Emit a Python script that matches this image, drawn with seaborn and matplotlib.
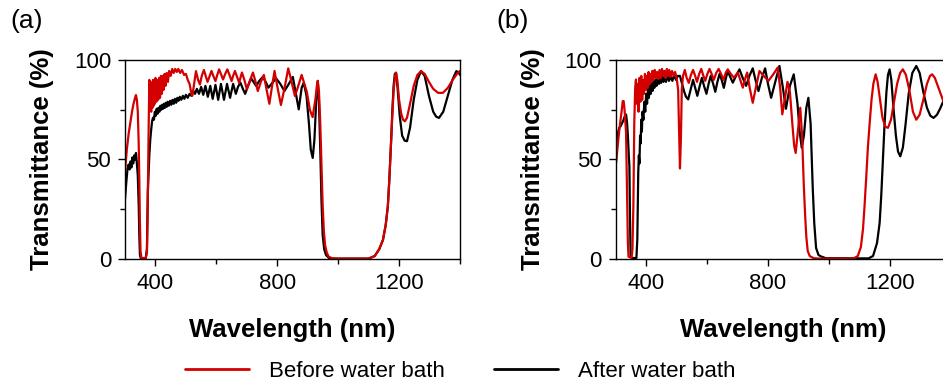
import matplotlib
matplotlib.use("Agg")
import matplotlib.pyplot as plt
import seaborn as sns
from matplotlib.lines import Line2D
from matplotlib.ticker import MultipleLocator

# (wavelength nm, transmittance %)
a_before = [(300, 44), (306, 55), (312, 63), (318, 69), (323, 74), (328, 78), (333, 81), (336, 82.4), (339, 80),
            (342, 74), (345, 58), (347, 40), (349, 18), (351, 4), (354, 0.5), (368, 0.5), (372, 3), (374, 20),
            (376, 45), (378, 70), (380, 90), (382, 76), (384, 89), (386, 74), (388, 88), (390, 76), (392, 90),
            (394, 77), (396, 89), (398, 78), (400, 91), (403, 79), (406, 90), (409, 80), (412, 91), (415, 81),
            (418, 92), (421, 83), (424, 92), (427, 85), (430, 93), (433, 87), (437, 93.5), (441, 89), (445, 94.5),
            (450, 92), (455, 95.5), (460, 93.5), (465, 95.5), (470, 94), (475, 95.5), (481, 93.5), (487, 95),
            (494, 92.5), (500, 93), (506, 90), (512, 88), (517, 84), (521, 82), (526, 87), (533, 94.4), (540, 90),
            (546, 87.7), (552, 92), (559, 95), (565, 92), (571, 89), (578, 92), (584, 94.5), (590, 92), (597, 89.4),
            (603, 92.5), (609, 95.3), (615, 93), (622, 90.2), (629, 93), (636, 95.3), (643, 92.5), (650, 89.4),
            (655, 92), (661, 94.5), (668, 91.5), (675, 88.5), (679, 91), (684, 93.7), (692, 90), (700, 85.3),
            (710, 89.5), (720, 93.7), (728, 89.5), (736, 84.4), (746, 89), (756, 92.5), (765, 85), (774, 78),
            (782, 86), (791, 94.5), (801, 86), (812, 77.4), (824, 86), (836, 95.8), (847, 89), (858, 81.9),
            (869, 87), (880, 92.5), (897, 84), (907, 75), (916, 71.3), (925, 80), (930, 87), (933, 89.5),
            (937, 84), (941, 69), (945, 48), (949, 27), (953, 14), (957, 7), (962, 3.5), (968, 1.3), (978, 0.5),
            (990, 0.2), (1100, 0.2), (1120, 1.5), (1135, 5), (1147, 9.6), (1156, 17), (1163, 26.4), (1168, 40),
            (1174, 60), (1178, 73), (1182, 85), (1187, 92), (1190, 93.6), (1194, 90), (1200, 80), (1207, 73),
            (1213, 70), (1219, 69.2), (1226, 71), (1236, 78), (1248, 87), (1260, 92.5), (1272, 94.4), (1284, 93),
            (1298, 89), (1312, 85.5), (1328, 83.5), (1344, 83.5), (1360, 86), (1376, 90), (1390, 93), (1400, 94.5)]

a_after = [(300, 30), (304, 38), (308, 45), (312, 47.5), (315, 45), (318, 49), (321, 46), (324, 51), (327, 48),
           (330, 52), (333, 50), (336, 53.3), (339, 48), (342, 42), (345, 27), (347, 12), (349, 2), (352, 0.3),
           (368, 0.3), (372, 5), (375, 34), (378, 45), (380, 52.5), (383, 60), (386, 65), (389, 69.3), (392, 71),
           (395, 70), (398, 74), (401, 72), (404, 75.5), (407, 73), (410, 76), (413, 74), (416, 77), (419, 75),
           (422, 77.5), (425, 75.5), (428, 78), (431, 76), (434, 78.5), (437, 76.5), (440, 79), (444, 77),
           (448, 79.5), (452, 77.5), (456, 80), (460, 78), (464, 80.5), (468, 78.5), (472, 81), (476, 79.5),
           (480, 81.5), (485, 80), (490, 82), (495, 80.5), (500, 82.5), (506, 81), (512, 83), (518, 82),
           (524, 84.5), (530, 83), (536, 85.5), (543, 83), (550, 86.5), (557, 82.5), (564, 87), (572, 81.5),
           (580, 87), (588, 80.5), (597, 87.5), (606, 80), (615, 88), (625, 80), (635, 88), (645, 81), (655, 88),
           (664, 83), (671, 86.5), (679, 88.6), (687, 85.5), (694.5, 83), (704, 87), (714, 90.8), (722, 89),
           (730.6, 87), (741, 89.5), (752.5, 91.5), (762, 89), (771, 86.1), (784, 88.5), (796, 90.8), (810, 88),
           (823.5, 84.4), (838, 88), (851, 91.5), (861, 83), (870.5, 75.2), (880, 86), (887, 88.6), (896, 82),
           (904, 68), (910, 55), (916.4, 50.8), (922, 60), (928, 80), (933, 89.5), (937, 78), (941.6, 52.5),
           (945, 30), (949, 12.2), (954, 5), (960, 2), (970, 0.5), (985, 0.2), (1100, 0.2), (1120, 1.5),
           (1135, 5), (1147, 9.6), (1156, 17), (1163, 26.4), (1168, 40), (1174, 60), (1178, 75), (1182, 87),
           (1186, 93), (1190, 93.6), (1195, 86), (1202, 72), (1210, 62), (1218, 59.5), (1226, 59.2), (1236, 66),
           (1248, 80), (1260, 90), (1272, 94.4), (1284, 92), (1298, 82), (1312, 74), (1322, 71.5), (1331, 70.9),
           (1345, 74), (1360, 82), (1375, 90), (1388, 94.4), (1395, 93.8), (1400, 92.5)]

b_before = [(300, 46.6), (304, 53), (308.6, 60), (312, 65), (316, 70), (320, 75), (323, 79.3), (326, 79.4),
            (328, 76.8), (331, 71), (334, 63.4), (336, 45), (338, 26.4), (340, 8), (342, 1.2), (352, 0.5),
            (355, 5), (358, 26.4), (361, 68.4), (364, 86), (366.5, 90.2), (369, 78), (372, 88), (375, 74),
            (378, 91), (381, 79), (384, 92), (387, 80), (390, 90), (393, 83), (396, 93), (399, 85), (402, 92),
            (405, 86), (408, 94), (411, 88), (414, 93), (417, 89), (420, 94.5), (424, 90), (428, 95), (432, 91),
            (436, 94), (440, 90.5), (444, 95), (448, 91), (452, 95.5), (456, 92), (460, 94.5), (464, 91),
            (468, 95.5), (472, 92), (476, 95), (480, 91.5), (485, 94.5), (490, 92), (495, 94), (500, 91),
            (505, 85), (508, 65), (511, 45.5), (514, 60), (517, 85), (521, 92), (527, 95), (533, 91), (540, 88.5),
            (547, 92.5), (554, 95), (561, 92), (567, 89), (574, 93), (581, 95.5), (588, 92), (594, 89.5),
            (601, 93), (608, 95.5), (615, 93), (622, 90), (630, 93.5), (638, 95.5), (646, 93), (654, 90),
            (661, 93.5), (668, 95.3), (678, 93), (688, 91.1), (695, 92.5), (701, 93.7), (709, 90), (717.4, 86.1),
            (724, 90), (731.6, 93.7), (740, 86), (750, 78.5), (760, 86), (772, 94.5), (786, 92), (801.5, 89.5),
            (816, 92.5), (832, 96.2), (840, 86), (847, 72.7), (856, 81), (864, 89), (872, 84), (880, 68),
            (886, 57), (891, 53.3), (898, 64), (906, 76), (912, 62), (917.4, 38), (922, 22), (926, 11),
            (930.5, 4), (937, 1.5), (950, 0.4), (970, 0.2), (1080, 0.2), (1095, 1.5), (1105, 6), (1112, 15),
            (1117, 26.4), (1123, 42), (1128, 56), (1134, 68.4), (1140, 80), (1146, 88), (1153.5, 92.8),
            (1160, 89), (1168, 80), (1176, 71), (1185, 66.5), (1194, 65.9), (1204, 70), (1214, 79), (1224, 88),
            (1234, 93.5), (1243, 95.3), (1253, 92.5), (1264, 85), (1276, 74), (1287, 70), (1298, 72.5),
            (1310, 80), (1322, 88), (1332, 92), (1339, 92.8), (1348, 91), (1360, 86), (1373, 80.5), (1380, 78)]

b_after = [(300, 47), (304, 57), (308.6, 64.2), (312, 66), (316, 66.7), (320, 68), (324, 69.2), (327, 70.5),
           (330, 71.8), (334, 72.6), (337, 69), (340, 62), (343, 52), (345, 46.6), (347, 20), (349, 1.2),
           (355, 0.5), (368, 0.5), (371, 10), (374, 43.2), (376, 52), (378, 48), (380, 62), (382, 58), (384, 70),
           (386, 64), (388, 74), (391, 70), (394, 79), (397, 74), (400, 83), (403, 78), (406, 85.5), (409, 81),
           (412, 86.9), (415, 83), (418, 88), (421, 84.5), (424, 89), (427, 86), (430, 90), (434, 87), (438, 91),
           (442, 88), (445, 91.9), (449, 88.5), (453, 91.5), (457, 89), (461, 92), (465, 89), (470, 92),
           (475, 89.5), (480, 92), (486, 89.5), (492, 92.5), (498, 90), (504, 92), (511, 92), (518, 88),
           (525, 84), (531, 81.5), (538, 80.2), (546, 85), (554, 90), (561, 86), (568, 82), (576, 87), (583, 91),
           (590, 87), (598, 83), (605, 88), (612, 92), (620, 88), (627, 84), (634, 89), (641, 93), (648, 90),
           (655, 86), (662, 91), (668, 94.5), (676, 91.5), (684.6, 88.6), (695, 92), (706.5, 95.3), (717, 91),
           (728.3, 87), (739, 92), (750, 95.8), (759, 90), (768.8, 84.4), (780, 91), (790.6, 95.8), (800, 88),
           (810.3, 81), (824, 89), (837.6, 97), (848, 87), (859, 75.5), (872, 87), (884.6, 92.8), (897, 78),
           (904, 64), (910.9, 55.9), (918, 62), (926, 76), (932.7, 81), (940, 68), (947, 35.7), (952, 18),
           (958, 5.5), (966, 2), (974, 1.3), (990, 0.4), (1130, 0.3), (1145, 1.5), (1158, 8), (1166.6, 18),
           (1172, 32), (1178, 52), (1183, 68.4), (1189, 84), (1194, 92.5), (1199.4, 95.3), (1205, 90),
           (1212, 76), (1220, 62), (1227, 54), (1234.4, 51.6), (1243, 56), (1252, 68), (1262, 83), (1274, 93.5),
           (1287, 97), (1298, 93.5), (1310, 84), (1322, 76), (1333, 72), (1343.7, 70.9), (1355, 72.5),
           (1365, 75.5), (1375, 79)]

panel_labels = ["(a)", "(b)"]
series_names = ["Before water bath", "After water bath"]
RED = "#d40000"
BLACK = "#000000"

sns.set_theme(style="ticks")
plt.rcParams["font.family"] = ["Liberation Sans", "DejaVu Sans"]
for key in ["text.color", "axes.labelcolor", "xtick.color", "ytick.color", "axes.edgecolor"]:
    plt.rcParams[key] = "black"
plt.rcParams["axes.linewidth"] = 1.0

fig = plt.figure(figsize=(9.43, 3.86), dpi=100)
W, H = 943, 386
ax_a = fig.add_axes([125 / W, 127 / H, 335 / W, 199 / H])
ax_b = fig.add_axes([615.7 / W, 127 / H, 335 / W, 199 / H])

for ax, before, after in [(ax_a, a_before, a_after), (ax_b, b_before, b_after)]:
    bx, by = zip(*before)
    ax_x, ax_y = zip(*after)
    sns.lineplot(x=list(ax_x), y=list(ax_y), ax=ax, color=BLACK, lw=1.6, estimator=None, sort=False)
    sns.lineplot(x=list(bx), y=list(by), ax=ax, color=RED, lw=1.6, estimator=None, sort=False)
    ax.set_xlim(300, 1400)
    ax.set_ylim(0, 100)
    ax.set_xticks([400, 800, 1200])
    ax.set_yticks([0, 50, 100])
    ax.xaxis.set_minor_locator(MultipleLocator(200))
    ax.yaxis.set_minor_locator(MultipleLocator(25))
    ax.tick_params(which="major", direction="out", length=5, width=1, labelsize=16, pad=5)
    ax.tick_params(which="minor", direction="out", length=3.5, width=1)
    ax.set_xlabel("Wavelength (nm)", fontsize=18.5, fontweight="bold", labelpad=17)
    ax.set_ylabel("Transmittance (%)", fontsize=18.5, fontweight="bold", labelpad=14)
    for s in ax.spines.values():
        s.set_color("black")
        s.set_linewidth(1.0)

fig.text(10 / W, 1 - 9 / H, panel_labels[0], fontsize=19, va="top", ha="left")
fig.text(496 / W, 1 - 9 / H, panel_labels[1], fontsize=19, va="top", ha="left")

handles = [Line2D([], [], color=RED, lw=2), Line2D([], [], color=BLACK, lw=2)]
fig.legend(handles, series_names, loc="center", bbox_to_anchor=(0.488, 0.038), ncol=2, frameon=False,
           fontsize=16, handlelength=2.9, handletextpad=0.9, columnspacing=2.2)

fig.savefig("out.png", dpi=100)
